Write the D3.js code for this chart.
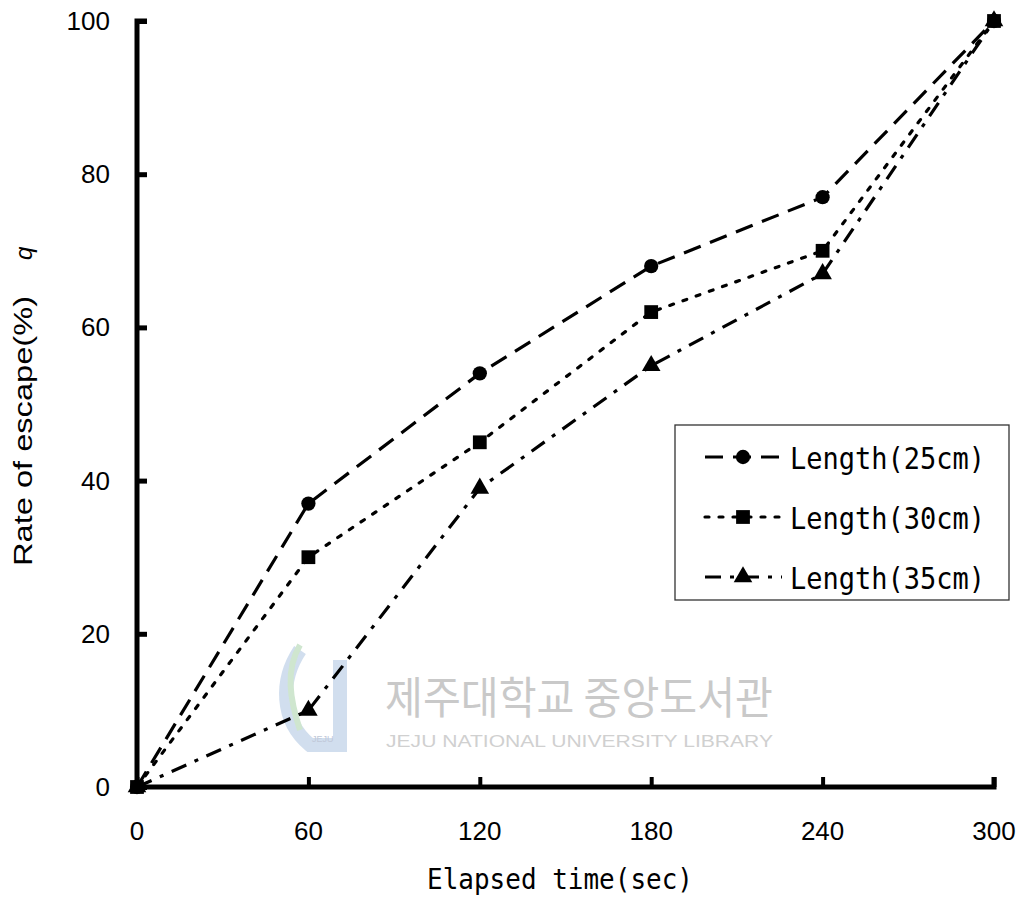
<!DOCTYPE html>
<html><head><meta charset="utf-8">
<script src="https://cdn.jsdelivr.net/npm/d3@7"></script>
<style>body{margin:0;background:#fff}svg{display:block}</style>
</head><body>
<svg id="c" width="1021" height="899"></svg>
<script>
const times = [0, 60, 120, 180, 240, 300];
const len25 = [0, 37, 54, 68, 77, 100];
const len30 = [0, 30, 45, 62, 70, 100];
const len35 = [0, 10, 39, 55, 67, 100];
const seriesNames = ["Length(25cm)", "Length(30cm)", "Length(35cm)"];
const yTicks = [0, 20, 40, 60, 80, 100];
const xTicks = [0, 60, 120, 180, 240, 300];

const svg = d3.select("#c");
const x = d3.scaleLinear().domain([0, 300]).range([137, 994]);
const y = d3.scaleLinear().domain([0, 100]).range([787, 21]);

// watermark
const wm = svg.append("g");
wm.append("path").attr("d","M300,650 C280,680 280,720 310,745 L340,745 L340,660")
  .attr("fill","none").attr("stroke","#c6d6ea").attr("stroke-width",14).attr("opacity",0.8);
wm.append("path").attr("d","M300,645 C285,670 290,700 300,730")
  .attr("fill","none").attr("stroke","#cfe6cf").attr("stroke-width",6);
wm.append("text").attr("x",312).attr("y",742).attr("font-family","Liberation Sans")
  .attr("font-size",9).attr("fill","#c0c8d8").text("JEJU");
wm.append("text").attr("x",385).attr("y",714).attr("font-family","Noto Sans CJK KR")
  .attr("font-size",44).attr("fill","#c9c9c9").attr("textLength",388).attr("lengthAdjust","spacingAndGlyphs")
  .text("제주대학교 중앙도서관");
wm.append("text").attr("x",386).attr("y",747).attr("font-family","Liberation Sans")
  .attr("font-size",17).attr("fill","#d0d0d0").attr("textLength",387).attr("lengthAdjust","spacingAndGlyphs")
  .text("JEJU NATIONAL UNIVERSITY  LIBRARY");

// axes
const yAxis = d3.axisRight(y).tickValues(yTicks).tickSize(10).tickFormat("");
const gy = svg.append("g").attr("transform",`translate(${x(0)},0)`).call(yAxis);
gy.select(".domain").attr("stroke","#000").attr("stroke-width",5).attr("d",`M10,${y(100)}H0V${y(0)}`);
gy.selectAll(".tick line").attr("stroke","#000").attr("stroke-width",5);
const xAxis = d3.axisTop(x).tickValues(xTicks).tickSize(10).tickFormat("");
const gx = svg.append("g").attr("transform",`translate(0,${y(0)})`).call(xAxis);
gx.select(".domain").attr("stroke","#000").attr("stroke-width",5).attr("d",`M${x(0)},0H${x(300)}V-10`);
gx.selectAll(".tick line").attr("stroke","#000").attr("stroke-width",4);

// tick labels
svg.append("g").selectAll("text").data(yTicks).join("text")
  .attr("x",110).attr("y",d=>y(d)+9).attr("text-anchor","end")
  .attr("font-family","Liberation Sans").attr("font-size",26).text(d=>d);
svg.append("g").selectAll("text").data(xTicks).join("text")
  .attr("x",d=>x(d)).attr("y",840).attr("text-anchor","middle")
  .attr("font-family","Liberation Sans").attr("font-size",26).text(d=>d);

// axis titles
svg.append("text").attr("x",427).attr("y",889).attr("font-family","DejaVu Sans Mono")
  .attr("font-size",28).attr("textLength",266).attr("lengthAdjust","spacingAndGlyphs")
  .text("Elapsed time(sec)");
const yt = svg.append("g").attr("transform","translate(32,566) rotate(-90)");
yt.append("text").attr("x",0).attr("y",0).attr("font-family","Liberation Sans")
  .attr("font-size",25).attr("textLength",270).attr("lengthAdjust","spacingAndGlyphs")
  .text("Rate of escape(%)");
yt.append("text").attr("x",306).attr("y",0).attr("font-family","Liberation Sans")
  .attr("font-size",24).attr("font-style","italic").text("q");

// series
const data = [len25, len30, len35];
const dashes = ["18,10", "4,10", "16,9,4,9"];
const shapes = [d3.symbolCircle, d3.symbolSquare, d3.symbolTriangle];
const sizes = [160, 190, 150];
const line = d3.line().x((d,i)=>x(times[i])).y(d=>y(d));
data.forEach((vals, k) => {
  svg.append("path").datum(vals).attr("d", line).attr("fill","none")
    .attr("stroke","#000").attr("stroke-width",3.2).attr("stroke-dasharray",dashes[k])
    .attr("stroke-linecap", k===1 ? "round" : "butt");
  svg.append("g").selectAll("path").data(vals).join("path")
    .attr("transform",(d,i)=>`translate(${x(times[i])},${y(d)})`)
    .attr("d", d3.symbol().type(shapes[k]).size(sizes[k])).attr("fill","#000");
});

// legend
const lg = svg.append("g");
lg.append("rect").attr("x",675).attr("y",425).attr("width",334).attr("height",175)
  .attr("fill","#fff").attr("stroke","#333").attr("stroke-width",1.3);
seriesNames.forEach((name,k) => {
  const ly = 457 + k*60;
  lg.append("path").attr("d",`M705,${ly}H782`).attr("stroke","#000").attr("stroke-width",3.2)
    .attr("stroke-dasharray",dashes[k]).attr("stroke-linecap", k===1 ? "round" : "butt");
  lg.append("path").attr("transform",`translate(743,${ly})`)
    .attr("d", d3.symbol().type(shapes[k]).size(sizes[k])).attr("fill","#000");
  lg.append("text").attr("x",790).attr("y",ly+12).attr("font-family","DejaVu Sans Mono")
    .attr("font-size",31).attr("textLength",195).attr("lengthAdjust","spacingAndGlyphs").text(name);
});
</script>
</body></html>
